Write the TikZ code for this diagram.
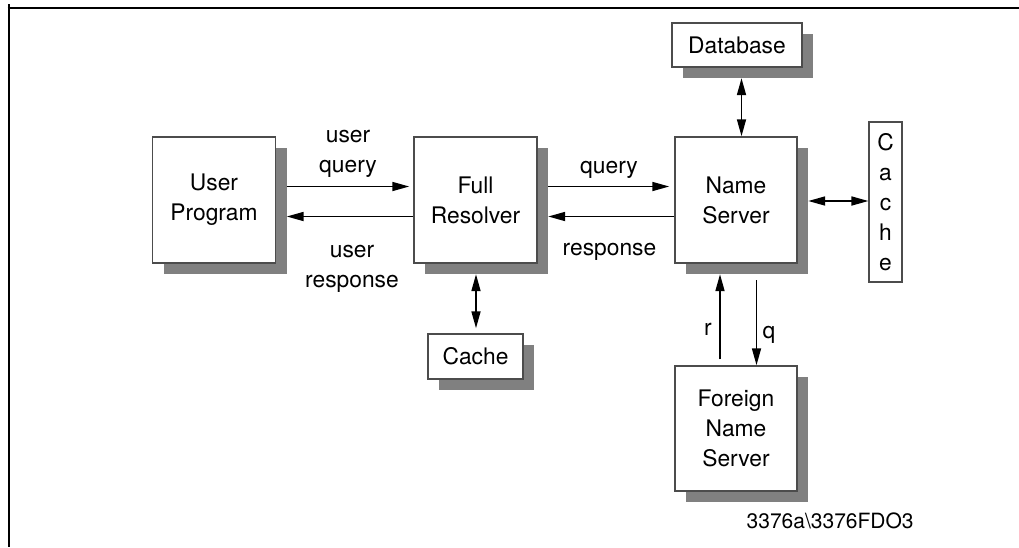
\documentclass[tikz,border=0pt]{standalone}
\usepackage{fontspec}
\setmainfont{TeX Gyre Heros}
\usetikzlibrary{arrows.meta}
\newcommand\dnsfont{\fontsize{22.8}{30}\selectfont}
\begin{document}
\begin{tikzpicture}[x=1pt,y=-1pt,
  box/.style={draw=black!70, line width=1.5pt, fill=white, inner sep=0pt, align=center, font=\dnsfont},
  shade/.style={fill=black!50, draw=none, inner sep=0pt},
  arr/.style={line width=1.7pt, -{Triangle[length=17pt,width=9pt]}},
  darr/.style={line width=1.7pt, {Triangle[length=17pt,width=9pt]}-{Triangle[length=17pt,width=9pt]}},
  lab/.style={font=\dnsfont, inner sep=0pt, align=center}]
\useasboundingbox (0,0) rectangle (1019,547);
% frame
\draw[line width=2pt] (8.5,4) -- (8.5,547);
\draw[line width=2pt] (7.5,7.5) -- (1019,7.5);
% shadows
\node[shade, minimum width=123pt, minimum height=126pt] (UPs) at (225,211) {};
\node[shade, minimum width=123pt, minimum height=126pt] (FRs) at (486.5,211) {};
\node[shade, minimum width=122pt, minimum height=126pt] (NSs) at (747,211) {};
\node[shade, minimum width=130pt, minimum height=44pt] (DBs) at (748,56) {};
\node[shade, minimum width=95pt, minimum height=45pt] (CBs) at (486.5,367.5) {};
\node[shade, minimum width=122pt, minimum height=125pt] (FNs) at (747,439.5) {};
% boxes
\node[box, minimum width=123pt, minimum height=126pt] (UP) at (214,200) {User\\Program};
\node[box, minimum width=123pt, minimum height=126pt] (FR) at (475.5,200) {Full\\Resolver};
\node[box, minimum width=122pt, minimum height=126pt] (NS) at (736,200) {Name\\Server};
\node[box, minimum width=130pt, minimum height=44pt] (DB) at (737,45) {Database};
\node[box, minimum width=95pt, minimum height=45pt] (CB) at (475.5,356.5) {Cache};
\node[box, minimum width=122pt, minimum height=125pt] (FN) at (736,428.5) {Foreign\\Name\\Server};
\node[box, line width=1.2pt, minimum width=33pt, minimum height=160pt] (RC) at (885.5,202) {C\\a\\c\\h\\e};
% connectors
\draw[arr, shorten >=4pt] (UPs.east |- 0,186.5) -- (FR.west |- 0,186.5);
\draw[arr] (FR.west |- 0,216.5) -- (UPs.east |- 0,216.5);
\draw[arr, shorten >=5pt] (FRs.east |- 0,186.5) -- (NS.west |- 0,186.5);
\draw[arr] (NS.west |- 0,216.5) -- (FRs.east |- 0,216.5);
\draw[darr] (DBs.south -| 741.5,0) -- (NS.north -| 741.5,0);
\draw[darr] (NSs.east |- 0,201) -- (RC.west |- 0,201);
\draw[darr, shorten >=5pt] (FRs.south -| 476,0) -- (CB.north -| 476,0);
\draw[arr, shorten <=6pt] (FN.north -| 720,0) -- (NSs.south -| 720,0);
\draw[arr, shorten <=6pt] (NSs.south -| 756.5,0) -- (FN.north -| 756.5,0);
% labels
\node[lab] (lq) at (348,154) {user\\query};
\node[lab] (lr) at (352,268.5) {user\\response};
\node[lab, anchor=base] (q) at (609,173) {query};
\node[lab, anchor=base] (resp) at (609.5,255) {response};
\node[lab, anchor=base] (r) at (708,335) {r};
\node[lab, anchor=base] (qq) at (769,338) {q};
\node[font=\fontsize{21}{25}\selectfont, anchor=base west, inner sep=0pt] (id) at (746.5,528) {3376a\textbackslash 3376FDO3};
\end{tikzpicture}
\end{document}
